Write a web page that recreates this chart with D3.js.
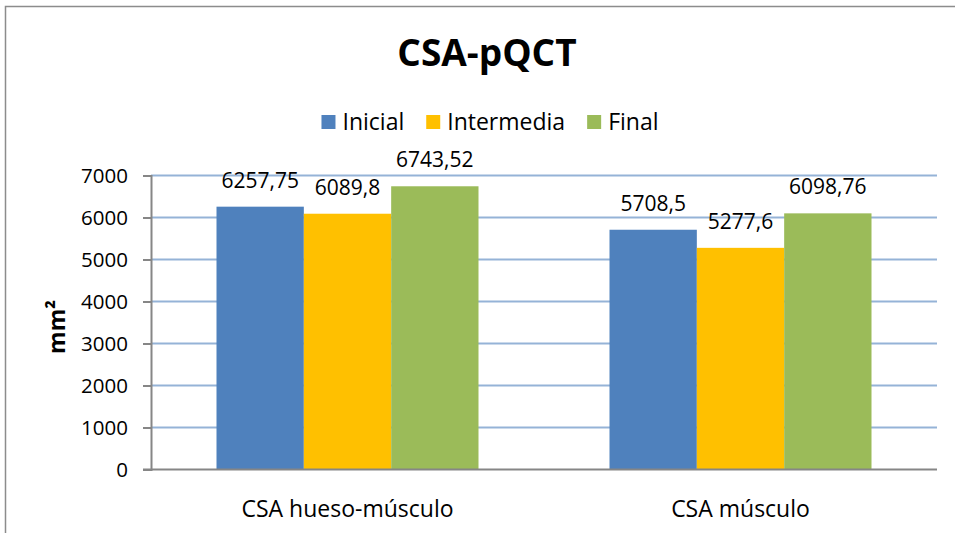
<!DOCTYPE html>
<html>
<head>
<meta charset="utf-8">
<script src="https://cdn.jsdelivr.net/npm/d3@7"></script>
<style>
  html, body { margin: 0; padding: 0; background: #fff; }
  svg { display: block; }
  text { font-family: "Open Sans", "Noto Sans", sans-serif; fill: #000; }
</style>
</head>
<body>
<svg id="chart" width="955" height="533"></svg>
<script>
// Chart data
const title = "CSA-pQCT";
const yAxisTitle = "mm²";
const categories = ["CSA hueso-músculo", "CSA músculo"];
const seriesNames = ["Inicial", "Intermedia", "Final"];
const inicial = [6257.75, 5708.5];
const intermedia = [6089.8, 5277.6];
const final = [6743.52, 6098.76];
const yTicks = [0, 1000, 2000, 3000, 4000, 5000, 6000, 7000];
const colors = ["#4F81BD", "#FFC000", "#9BBB59"];

const seriesValues = [inicial, intermedia, final];
const rows = categories.map((c, i) => ({
  category: c,
  values: seriesNames.map((s, j) => ({ series: s, value: seriesValues[j][i], color: colors[j] }))
}));

const fmt = v => String(v).replace(".", ",");

const svg = d3.select("#chart");
const plot = { left: 151, right: 937, top: 175.5, bottom: 469.5 };

// outer chart frame
svg.append("rect")
  .attr("x", 5.5).attr("y", 6.5)
  .attr("width", 1000).attr("height", 600)
  .attr("fill", "#fff")
  .attr("stroke", "#8c8c8c").attr("stroke-width", 1.5);

const x0 = d3.scaleBand().domain(categories).range([plot.left, plot.right]).padding(0);
const x1 = d3.scaleBand().domain(seriesNames).range([0, x0.bandwidth()])
  .paddingInner(0).paddingOuter(0.75);
const y = d3.scaleLinear().domain([0, 7000]).range([plot.bottom, plot.top]);

// horizontal gridlines
svg.append("g")
  .selectAll("line")
  .data(yTicks.filter(t => t > 0))
  .join("line")
  .attr("x1", plot.left).attr("x2", plot.right)
  .attr("y1", d => y(d)).attr("y2", d => y(d))
  .attr("stroke", "#95B3D7").attr("stroke-width", 2);

// bars
const groups = svg.append("g")
  .selectAll("g")
  .data(rows)
  .join("g")
  .attr("transform", d => `translate(${x0(d.category)},0)`);

groups.selectAll("rect")
  .data(d => d.values)
  .join("rect")
  .attr("x", d => x1(d.series))
  .attr("width", x1.bandwidth())
  .attr("y", d => y(d.value))
  .attr("height", d => y(0) - y(d.value))
  .attr("fill", d => d.color);

// value labels
groups.selectAll("text")
  .data(d => d.values)
  .join("text")
  .attr("x", d => x1(d.series) + x1.bandwidth() / 2)
  .attr("y", d => y(d.value) - 19)
  .attr("text-anchor", "middle")
  .style("font-size", "21px")
  .text(d => fmt(d.value));

// y axis
const yAxis = d3.axisLeft(y).tickValues(yTicks).tickSize(8).tickPadding(15).tickFormat(d => d);
const yg = svg.append("g").attr("transform", `translate(${plot.left},0)`).call(yAxis);
yg.select(".domain").attr("stroke", "#868686").attr("stroke-width", 2);
yg.selectAll(".tick line").attr("stroke", "#868686").attr("stroke-width", 2);
yg.selectAll(".tick text").style("font-size", "20.5px")
  .style("font-family", "'Open Sans', sans-serif").attr("fill", "#000");

// x axis
const xAxis = d3.axisBottom(x0).tickSize(0).tickPadding(31);
const xg = svg.append("g").attr("transform", `translate(0,${plot.bottom})`).call(xAxis);
xg.select(".domain").attr("stroke", "#868686").attr("stroke-width", 2)
  .attr("d", `M${plot.left - 8},0H${plot.right}`);
xg.selectAll(".tick text").style("font-size", "23px")
  .style("font-family", "'Open Sans', sans-serif").attr("fill", "#000");

// y axis title
svg.append("text")
  .attr("transform", `translate(65,327) rotate(-90)`)
  .attr("text-anchor", "middle")
  .style("font-size", "23px").style("font-weight", "bold")
  .text(yAxisTitle);

// chart title
svg.append("text")
  .attr("x", 487).attr("y", 66)
  .attr("text-anchor", "middle")
  .style("font-size", "37px").style("font-weight", "bold")
  .text(title);

// legend
const legend = svg.append("g");
let cursor = 0;
seriesNames.forEach((name, i) => {
  const item = legend.append("g").attr("transform", `translate(${cursor},0)`);
  item.append("rect").attr("x", 0).attr("y", 115).attr("width", 14).attr("height", 14)
    .attr("fill", colors[i]);
  const t = item.append("text").attr("x", 21).attr("y", 130)
    .style("font-size", "23px").text(name);
  cursor += 21 + t.node().getComputedTextLength() + 22;
});
const legendWidth = cursor - 22;
legend.attr("transform", `translate(${490 - legendWidth / 2},0)`);
</script>
</body>
</html>
